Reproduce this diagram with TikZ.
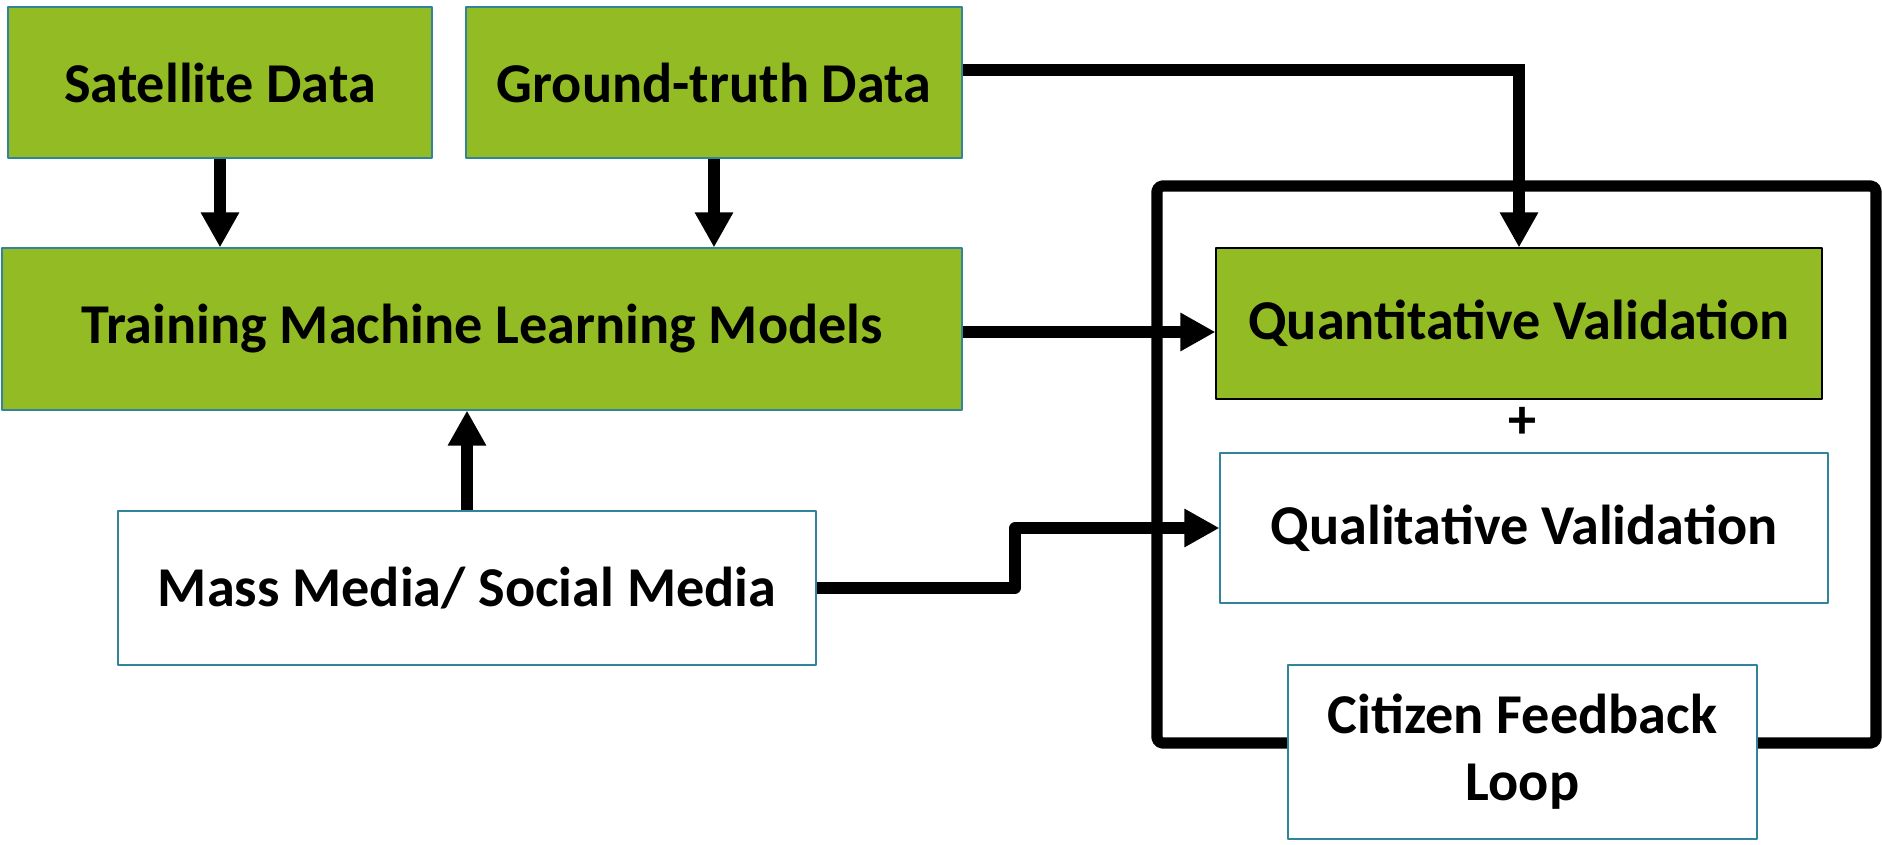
\documentclass[tikz,border=0pt]{standalone}
\usepackage{fontspec}
\setmainfont{Carlito}
\usetikzlibrary{arrows.meta,positioning}

\definecolor{leafgreen}{RGB}{146,187,36}
\definecolor{tealline}{RGB}{49,132,155}

\begin{document}
\begin{tikzpicture}[line join=round, line cap=round,
    box/.style={draw=tealline, line width=0.6pt, font=\bfseries\fontsize{32}{38}\selectfont,
                align=center, inner sep=0pt},
    greenbox/.style={box, fill=leafgreen},
    whitebox/.style={box, fill=white},
    flow/.style={line width=6.4pt, line cap=butt, -{Triangle[length=0.7cm,width=0.72cm]}}]

    % Fix the picture frame
    \useasboundingbox (0,0) rectangle (37.64,16.88);

    % Input and model boxes
    \node[greenbox, minimum width=8.48cm, minimum height=3.02cm] (Sat) at (4.40,15.23) {Satellite Data};
    \node[greenbox, minimum width=9.92cm, minimum height=3.02cm] (Ground) at (14.28,15.23) {Ground-truth Data};
    \node[greenbox, minimum width=19.2cm, minimum height=3.24cm] (Train) at (9.64,10.30) {Training Machine Learning Models};
    \node[whitebox, minimum width=13.96cm, minimum height=3.08cm] (Media) at (9.34,5.12) {Mass Media/ Social Media};

    % Validation frame
    \draw[line width=6.4pt, rounded corners=3pt] (23.14,13.16) rectangle (37.52,2.02);

    % Validation boxes
    \node[greenbox, draw=black, minimum width=12.12cm, minimum height=3.02cm] (Quant) at (30.38,10.41) {Quantitative Validation};
    \node[font=\bfseries\fontsize{32}{38}\selectfont] (Plus) at (30.44,8.42) {+};
    \node[whitebox, minimum width=12.16cm, minimum height=3.0cm] (Qual) at (30.48,6.32) {Qualitative Validation};
    \node[whitebox, minimum width=9.38cm, minimum height=3.48cm] (Loop) at (30.45,1.84) {Citizen Feedback\\[0pt]Loop};

    % Bend points
    \coordinate (MQ) at (20.30,0);

    % Connectors
    \draw[flow] (Sat.south) -- (Sat.south |- Train.north);
    \draw[flow] (Ground.south) -- (Ground.south |- Train.north);
    \draw[flow] (Media.north) -- (Media.north |- Train.south);
    \draw[flow] ([yshift=-0.06cm]Train.east) -- ([yshift=-0.06cm]Train.east -| Quant.west);
    \draw[flow, line join=miter] ([yshift=0.25cm]Ground.east) -| (Quant.north);
    \draw[flow] (Media.east) -- (Media.east -| MQ) |- (Qual.west);

\end{tikzpicture}
\end{document}
